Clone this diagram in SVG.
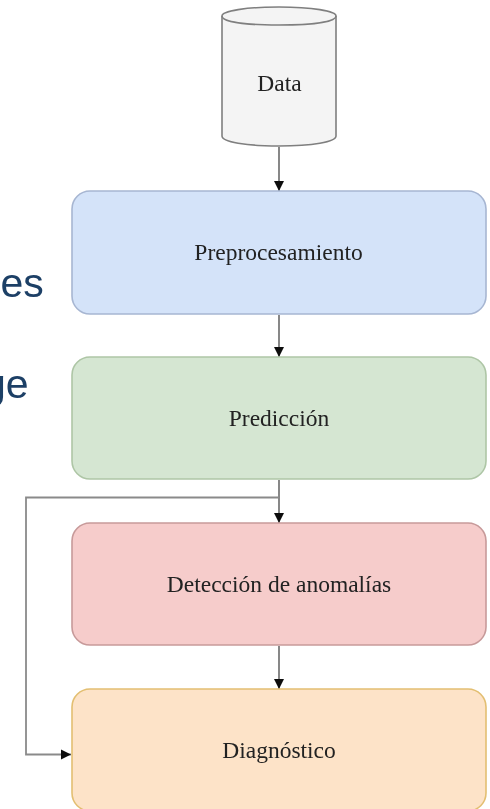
<svg xmlns="http://www.w3.org/2000/svg" width="490" height="809" viewBox="0 0 490 809">
<defs>
<style>
.t{font-family:"Liberation Serif","Times New Roman",serif;font-size:23.500px;fill:#222;text-anchor:middle}
.bg{font-family:"Liberation Sans",Arial,sans-serif;font-size:41px;fill:#1f3f66}
.box{stroke-width:1.6}
.c{fill:none;stroke:#555;stroke-width:1.4}
.g{fill:none;stroke:#8a8a8a;stroke-width:1.8}
</style>
<marker id="a" markerUnits="userSpaceOnUse" markerWidth="11" markerHeight="11" refX="10" refY="5.500" orient="auto"><path d="M0 0.500L10 5.500L0 10.500Z" fill="#111"/></marker>
<filter id="soft" filterUnits="userSpaceOnUse" x="0" y="0" width="490" height="809"><feGaussianBlur stdDeviation="0.4"/></filter>
</defs>
<rect width="490" height="809" fill="#fff"/>
<g filter="url(#soft)">
<text class="bg" x="0.500" y="296.500">es</text>
<text class="bg" x="-17" y="397.500">ge</text>
<g id="connectors">
<path class="c" d="M279 147V191" marker-end="url(#a)"/>
<path class="c" d="M279 315V357" marker-end="url(#a)"/>
<path class="c" d="M279 480V523" marker-end="url(#a)"/>
<path class="c" d="M279 646V689" marker-end="url(#a)"/>
<path class="g" d="M279 497.500H26V754.500H71" marker-end="url(#a)"/>
</g>
<g id="data">
<path d="M222 16C222 11 246 7 279 7C312 7 336 11 336 16V136C336 142 312 146 279 146C246 146 222 142 222 136Z" fill="#f4f4f4" stroke="#7f7f7f" stroke-width="1.6"/>
<path d="M222 16C222 22 246 25 279 25C312 25 336 22 336 16" fill="none" stroke="#7f7f7f" stroke-width="1.6"/>
<text class="t" x="279.500" y="91">Data</text>
</g>
<g id="preprocesamiento">
<rect class="box" x="72" y="191" width="414" height="123" rx="18" fill="#d4e3f9" stroke="#a7b6d2"/>
<text class="t" x="278.500" y="260">Preprocesamiento</text>
</g>
<g id="prediccion">
<rect class="box" x="72" y="357" width="414" height="122" rx="18" fill="#d5e6d2" stroke="#aec6a6"/>
<text class="t" x="279" y="426">Predicción</text>
</g>
<g id="deteccion">
<rect class="box" x="72" y="523" width="414" height="122" rx="18" fill="#f6cccb" stroke="#c79a9a"/>
<text class="t" x="279" y="592">Detección de anomalías</text>
</g>
<g id="diagnostico">
<rect class="box" x="72" y="689" width="414" height="122" rx="18" fill="#fde3c8" stroke="#e3bf72"/>
<text class="t" x="279" y="758">Diagnóstico</text>
</g>
</g>
</svg>
